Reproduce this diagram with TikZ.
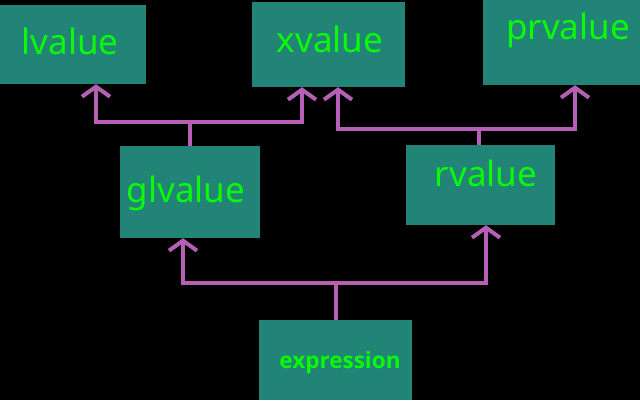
\documentclass[tikz,border=0pt]{standalone}
\usepackage{fontspec}
\setmainfont{Noto Sans}
\newfontfamily\exprfont{Open Sans}
\usetikzlibrary{arrows.meta, positioning, calc}
\definecolor{boxteal}{RGB}{34,132,119}
\definecolor{txtgreen}{RGB}{10,250,10}
\definecolor{linkpurple}{RGB}{181,96,180}

\begin{document}
\begin{tikzpicture}[x=1pt, y=-1pt,
        box/.style={rectangle, fill=boxteal, draw=none, inner sep=0pt},
        word/.style={text=txtgreen, inner sep=0pt, font=\fontsize{35}{40}\selectfont},
        link/.style={linkpurple, line width=4pt},
        arr/.style={link, -{Straight Barb[length=10pt, width=28pt, line width=4pt]}}]
        \fill[black] (0,0) rectangle (640,400);
        \useasboundingbox (0,0) rectangle (640,400);

        % boxes
        \node[box, minimum width=146pt, minimum height=79pt] (lvalue) at (73,44.5) {};
        \node[box, minimum width=153pt, minimum height=85pt] (xvalue) at (328.5,44.5) {};
        \node[box, minimum width=157pt, minimum height=85pt] (prvalue) at (561.5,42.5) {};
        \node[box, minimum width=140pt, minimum height=92pt] (glvalue) at (190,192) {};
        \node[box, minimum width=149pt, minimum height=80pt] (rvalue) at (480.5,185) {};
        \node[box, minimum width=153pt, minimum height=80pt] (expression) at (335.5,360) {};

        % labels
        \node[word] (lvalue-t) at (70,41) {lvalue};
        \node[word] (xvalue-t) at (330,39) {xvalue};
        \node[word] (prvalue-t) at (568,30) {prvalue};
        \node[word] (glvalue-t) at (186,193) {glvalue};
        \node[word] (rvalue-t) at (486,173) {rvalue};
        \node[word, font=\exprfont\bfseries\fontsize{22.5}{26}\selectfont] (expression-t) at (340,363) {expression};

        % connectors
        \coordinate (gl-j) at (190,122);
        \coordinate (r-j) at (479,129);
        \coordinate (ex-j) at (336,283);

        \draw[link] (glvalue.north) -- (gl-j);
        \draw[link] (96,122) -- (302,122);
        \draw[arr] (gl-j) -| ([xshift=23pt]lvalue.south);
        \draw[arr] (gl-j) -| ([xshift=-26.5pt]xvalue.south);

        \draw[link] ([xshift=-1.5pt]rvalue.north) -- (r-j);
        \draw[link] (338,129) -- (575,129);
        \draw[arr] (r-j) -| ([xshift=9.5pt]xvalue.south);
        \draw[arr] (r-j) -| ([xshift=13.5pt]prvalue.south);

        \draw[link] ([xshift=0.5pt]expression.north) -- (ex-j);
        \draw[link] (183,283) -- (486,283);
        \draw[arr] (ex-j) -| ([xshift=-7pt]glvalue.south);
        \draw[arr] (ex-j) -| ([xshift=5.5pt]rvalue.south);
\end{tikzpicture}
\end{document}
